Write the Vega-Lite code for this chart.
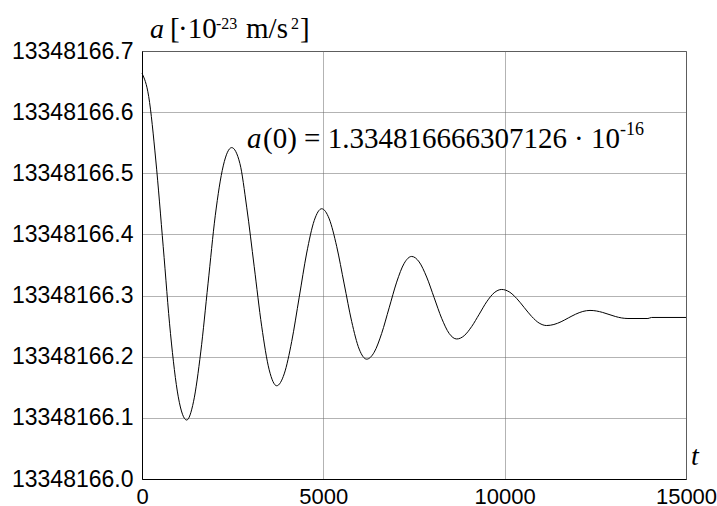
{
  "$schema": "https://vega.github.io/schema/vega-lite/v6.json",
  "width": 544,
  "height": 428,
  "autosize": {"type": "none"},
  "padding": {"left": 142, "top": 51, "right": 31, "bottom": 27},
  "background": "white",
  "config": {"view": {"stroke": "#555555", "strokeWidth": 1}},
  "datasets": {
    "curve": [
      {"t": 0, "a": 13348166.6635},
      {"t": 185, "a": 13348166.6255},
      {"t": 380, "a": 13348166.5217},
      {"t": 585, "a": 13348166.3800},
      {"t": 785, "a": 13348166.2382},
      {"t": 1000, "a": 13348166.1344},
      {"t": 1232, "a": 13348166.0964},
      {"t": 1420, "a": 13348166.1263},
      {"t": 1620, "a": 13348166.2078},
      {"t": 1820, "a": 13348166.3192},
      {"t": 2020, "a": 13348166.4306},
      {"t": 2240, "a": 13348166.5121},
      {"t": 2473, "a": 13348166.5420},
      {"t": 2700, "a": 13348166.5159},
      {"t": 2887, "a": 13348166.4446},
      {"t": 3094, "a": 13348166.3473},
      {"t": 3300, "a": 13348166.2499},
      {"t": 3507, "a": 13348166.1786},
      {"t": 3714, "a": 13348166.1525},
      {"t": 3921, "a": 13348166.1719},
      {"t": 4128, "a": 13348166.2249},
      {"t": 4335, "a": 13348166.2973},
      {"t": 4541, "a": 13348166.3696},
      {"t": 4748, "a": 13348166.4226},
      {"t": 4955, "a": 13348166.4420},
      {"t": 5162, "a": 13348166.4255},
      {"t": 5368, "a": 13348166.3805},
      {"t": 5575, "a": 13348166.3190},
      {"t": 5782, "a": 13348166.2575},
      {"t": 5988, "a": 13348166.2125},
      {"t": 6195, "a": 13348166.1960},
      {"t": 6402, "a": 13348166.2073},
      {"t": 6608, "a": 13348166.2380},
      {"t": 6815, "a": 13348166.2800},
      {"t": 7022, "a": 13348166.3220},
      {"t": 7229, "a": 13348166.3527},
      {"t": 7436, "a": 13348166.3640},
      {"t": 7643, "a": 13348166.3550},
      {"t": 7849, "a": 13348166.3303},
      {"t": 8056, "a": 13348166.2965},
      {"t": 8263, "a": 13348166.2628},
      {"t": 8470, "a": 13348166.2380},
      {"t": 8677, "a": 13348166.2290},
      {"t": 8884, "a": 13348166.2344},
      {"t": 9090, "a": 13348166.2493},
      {"t": 9298, "a": 13348166.2695},
      {"t": 9504, "a": 13348166.2898},
      {"t": 9711, "a": 13348166.3046},
      {"t": 9918, "a": 13348166.3100},
      {"t": 10125, "a": 13348166.3061},
      {"t": 10331, "a": 13348166.2953},
      {"t": 10538, "a": 13348166.2805},
      {"t": 10745, "a": 13348166.2658},
      {"t": 10951, "a": 13348166.2550},
      {"t": 11158, "a": 13348166.2510},
      {"t": 11357, "a": 13348166.2527},
      {"t": 11556, "a": 13348166.2572},
      {"t": 11755, "a": 13348166.2634},
      {"t": 11955, "a": 13348166.2695},
      {"t": 12154, "a": 13348166.2740},
      {"t": 12353, "a": 13348166.2757},
      {"t": 12528, "a": 13348166.2748},
      {"t": 12702, "a": 13348166.2724},
      {"t": 12877, "a": 13348166.2691},
      {"t": 13051, "a": 13348166.2658},
      {"t": 13226, "a": 13348166.2634},
      {"t": 13400, "a": 13348166.2625},
      {"t": 13950, "a": 13348166.2625},
      {"t": 14050, "a": 13348166.2642},
      {"t": 15000, "a": 13348166.2642}
    ],
    "labels": [
      {"t": 221, "a": 13348166.7208, "text": "a", "kind": "title_it"},
      {"t": 772, "a": 13348166.7208, "text": "[", "kind": "title"},
      {"t": 993, "a": 13348166.7208, "text": "·10", "kind": "title"},
      {"t": 2040, "a": 13348166.736, "text": "-23", "kind": "title_sup"},
      {"t": 2868, "a": 13348166.7208, "text": "m/s", "kind": "title"},
      {"t": 4109, "a": 13348166.736, "text": "2", "kind": "title_sup"},
      {"t": 4357, "a": 13348166.7208, "text": "]", "kind": "title"},
      {"t": 2895, "a": 13348166.5409, "text": "a", "kind": "note_it"},
      {"t": 3336, "a": 13348166.5409, "text": "(0) = 1.334816666307126", "kind": "note"},
      {"t": 11912, "a": 13348166.5409, "text": "· 10", "kind": "note"},
      {"t": 13180, "a": 13348166.5627, "text": "-16", "kind": "note_sup"},
      {"t": 15138, "a": 13348166.0229, "text": "t", "kind": "axis_it"}
    ]
  },
  "encoding": {
    "x": {
      "field": "t",
      "type": "quantitative",
      "scale": {"domain": [0, 15000], "nice": false, "zero": false},
      "axis": {
        "title": null,
        "values": [0, 5000, 10000, 15000],
        "format": "d",
        "ticks": false,
        "labelFont": "Liberation Sans",
        "labelFontSize": 22,
        "labelColor": "black",
        "labelPadding": 7,
        "labelFlush": false,
        "labelOverlap": false,
        "domainColor": "black",
        "grid": true,
        "gridColor": "#666666",
        "gridDash": [1, 1],
        "gridOpacity": 1
      }
    },
    "y": {
      "field": "a",
      "type": "quantitative",
      "scale": {"domain": [13348166.0, 13348166.7], "nice": false, "zero": false},
      "axis": {
        "title": null,
        "values": [13348166.0, 13348166.1, 13348166.2, 13348166.3, 13348166.4, 13348166.5, 13348166.6, 13348166.7],
        "format": ".1f",
        "ticks": false,
        "labelFont": "Liberation Sans",
        "labelFontSize": 23,
        "labelColor": "black",
        "labelPadding": 9,
        "labelOverlap": false,
        "domainColor": "black",
        "grid": true,
        "gridColor": "#666666",
        "gridDash": [1, 1],
        "gridOpacity": 1
      }
    }
  },
  "layer": [
    {
      "data": {"name": "curve"},
      "mark": {"type": "line", "color": "black", "strokeWidth": 1, "interpolate": "monotone"}
    },
    {
      "data": {"name": "labels"},
      "transform": [{"filter": "datum.kind === 'title_it'"}],
      "mark": {"type": "text", "align": "left", "baseline": "alphabetic", "font": "Liberation Serif", "fontSize": 28, "fontStyle": "italic", "color": "black"},
      "encoding": {"text": {"field": "text"}}
    },
    {
      "data": {"name": "labels"},
      "transform": [{"filter": "datum.kind === 'title'"}],
      "mark": {"type": "text", "align": "left", "baseline": "alphabetic", "font": "Liberation Serif", "fontSize": 29, "color": "black"},
      "encoding": {"text": {"field": "text"}}
    },
    {
      "data": {"name": "labels"},
      "transform": [{"filter": "datum.kind === 'title_sup'"}],
      "mark": {"type": "text", "align": "left", "baseline": "alphabetic", "font": "Liberation Serif", "fontSize": 16, "color": "black"},
      "encoding": {"text": {"field": "text"}}
    },
    {
      "data": {"name": "labels"},
      "transform": [{"filter": "datum.kind === 'note_it'"}],
      "mark": {"type": "text", "align": "left", "baseline": "alphabetic", "font": "Liberation Serif", "fontSize": 29, "fontStyle": "italic", "color": "black"},
      "encoding": {"text": {"field": "text"}}
    },
    {
      "data": {"name": "labels"},
      "transform": [{"filter": "datum.kind === 'note'"}],
      "mark": {"type": "text", "align": "left", "baseline": "alphabetic", "font": "Liberation Serif", "fontSize": 29, "color": "black"},
      "encoding": {"text": {"field": "text"}}
    },
    {
      "data": {"name": "labels"},
      "transform": [{"filter": "datum.kind === 'note_sup'"}],
      "mark": {"type": "text", "align": "left", "baseline": "alphabetic", "font": "Liberation Serif", "fontSize": 18, "color": "black"},
      "encoding": {"text": {"field": "text"}}
    },
    {
      "data": {"name": "labels"},
      "transform": [{"filter": "datum.kind === 'axis_it'"}],
      "mark": {"type": "text", "align": "left", "baseline": "alphabetic", "font": "Liberation Serif", "fontSize": 28, "fontStyle": "italic", "color": "black"},
      "encoding": {"text": {"field": "text"}}
    }
  ]
}
